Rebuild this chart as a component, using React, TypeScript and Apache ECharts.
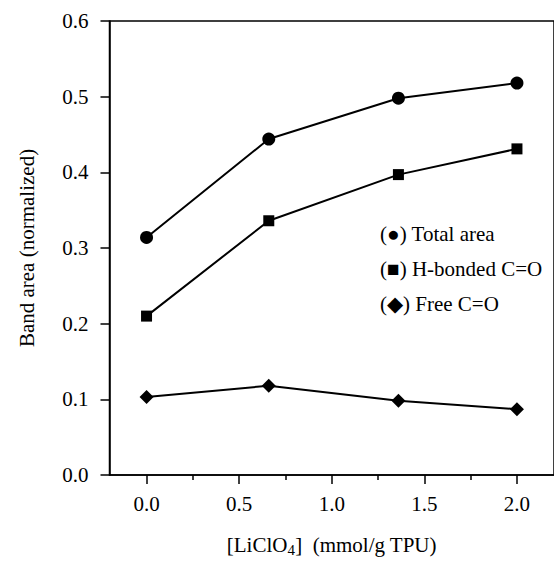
import React, { useEffect, useRef } from "react";
import * as echarts from "echarts";

const xValues = [0, 0.66, 1.36, 2.0];
const totalArea = [0.314, 0.444, 0.498, 0.518];
const hBonded = [0.21, 0.336, 0.397, 0.431];
const freeCO = [0.103, 0.118, 0.098, 0.087];
const xMajorTicks = [0, 0.5, 1.0, 1.5, 2.0];
const xMinorTicks = [0.25, 0.75, 1.25, 1.75];
const legendLabels = ["(\u25CF) Total area", "(\u25A0) H-bonded C=O", "(\u25C6) Free C=O"];

const FONT = "Times New Roman, Liberation Serif, Times, serif";
const FS = 21;

export default function App() {
  const ref = useRef<HTMLDivElement>(null);
  useEffect(() => {
    document.body.style.margin = "0";
    if (!ref.current) return;
    const chart = echarts.init(ref.current, null, { renderer: "svg" });
    const pair = (ys: number[]) => xValues.map((x, i) => [x, ys[i]]);
    const lineSeries = (name: string, ys: number[], symbol: string, size: number) => ({
      name,
      type: "line",
      data: pair(ys),
      symbol,
      symbolSize: size,
      lineStyle: { color: "#000", width: 2 },
      itemStyle: { color: "#000" },
      clip: false,
    });
    chart.setOption({
      animation: false,
      backgroundColor: "#fff",
      textStyle: { fontFamily: FONT },
      grid: {
        left: 109.5,
        right: -5,
        top: 21,
        bottom: 86,
        show: true,
        borderColor: "#000",
        borderWidth: 1.5,
        backgroundColor: "transparent",
      },
      xAxis: [
        {
          type: "value",
          min: -0.2,
          max: 2.2,
          axisLine: { show: true, onZero: false, lineStyle: { color: "#000", width: 1.5 } },
          axisTick: { show: true, customValues: xMajorTicks, length: 9, lineStyle: { color: "#000", width: 1.5 } },
          axisLabel: {
            customValues: xMajorTicks,
            formatter: (v: number) => v.toFixed(1),
            fontSize: FS,
            color: "#000",
            fontFamily: FONT,
            margin: 18,
          },
          splitLine: { show: false },
          name: "{n|[LiClO}{s|4}{n|]  (mmol/g TPU)}",
          nameLocation: "middle",
          nameGap: 57,
          nameTextStyle: {
            rich: {
              n: { fontSize: FS, color: "#000", fontFamily: FONT },
              s: { fontSize: 15, color: "#000", fontFamily: FONT, padding: [10, 0, 0, 0] },
            },
          },
        },
        {
          type: "value",
          min: -0.2,
          max: 2.2,
          position: "bottom",
          axisLine: { show: false, onZero: false },
          axisTick: { show: true, customValues: xMinorTicks, length: 5, lineStyle: { color: "#000", width: 1.5 } },
          axisLabel: { show: false },
          splitLine: { show: false },
        },
      ],
      yAxis: {
        type: "value",
        min: 0,
        max: 0.6,
        interval: 0.1,
        axisLine: { show: true, onZero: false, lineStyle: { color: "#000", width: 1.5 } },
        axisTick: { show: true, length: 9, lineStyle: { color: "#000", width: 1.5 } },
        axisLabel: {
          formatter: (v: number) => v.toFixed(1),
          fontSize: FS,
          color: "#000",
          fontFamily: FONT,
          margin: 21,
        },
        splitLine: { show: false },
        name: "Band area (normalized)",
        nameLocation: "middle",
        nameGap: 72,
        nameTextStyle: { fontSize: FS, color: "#000", fontFamily: FONT },
      },
      series: [
        lineSeries("Total area", totalArea, "circle", 13),
        lineSeries("H-bonded C=O", hBonded, "rect", 11),
        lineSeries("Free C=O", freeCO, "diamond", 14),
      ],
      graphic: legendLabels.map((t, i) => ({
        type: "text",
        left: 380,
        top: 223 + i * 35,
        style: { text: t, fontSize: FS, fill: "#000", fontFamily: FONT },
      })),
    });
    return () => chart.dispose();
  }, []);
  return <div ref={ref} style={{ width: 554, height: 562 }} />;
}
